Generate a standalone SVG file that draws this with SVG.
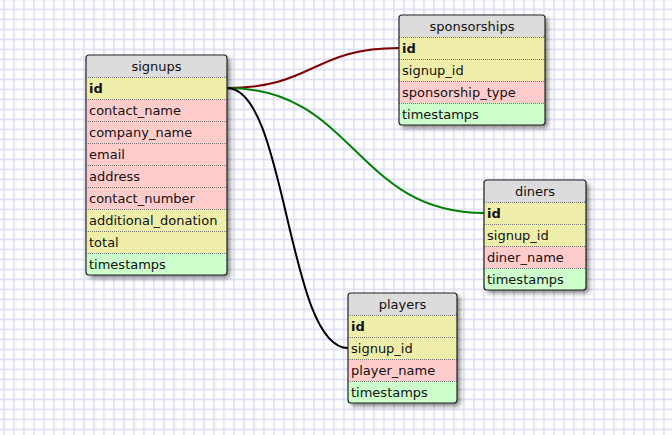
<svg xmlns="http://www.w3.org/2000/svg" width="672" height="435" viewBox="0 0 672 435">
<style>
  text { font-family: "DejaVu Sans", "Liberation Sans", sans-serif; font-size: 13px; fill: #111; }
  .title { text-anchor: middle; }
  .pk { font-weight: bold; }
  .hdr { fill: #dcdcdc; }
  .y { fill: #eeeeaa; }
  .p { fill: #ffcccc; }
  .g { fill: #ccffcc; }
  .sep { stroke: #777; stroke-width: 1; stroke-dasharray: 1 1; }
  .frame { fill: none; stroke: #222; stroke-width: 1.2; }
  .shadow { fill: #000; opacity: 0.5; filter: url(#blur); }
  .conn { fill: none; stroke-width: 2; }
</style>
<defs>
  <pattern id="grid" width="10" height="10" patternUnits="userSpaceOnUse" x="3.3" y="8.6">
    <path d="M0.7 0 V10 M0 0.7 H10" stroke="#dadaf6" stroke-width="1.4" fill="none"/>
  </pattern>
  <filter id="blur" x="-20%" y="-20%" width="140%" height="140%">
    <feGaussianBlur stdDeviation="2.5"/>
  </filter>
</defs>
<rect width="672" height="435" fill="#ffffff"/>
<rect width="672" height="435" fill="url(#grid)"/>

<g id="connectors">
  <path class="conn" stroke="#800000" d="M227 88 C313 88 313 48 399 48"/>
  <path class="conn" stroke="#008000" d="M227 88 C355 88 355 213 484 213"/>
  <path class="conn" stroke="#000000" d="M227 88 C287 88 287 348 348 348"/>
</g>

<g id="signups">
  <rect class="shadow" x="89" y="58" width="141" height="220" rx="3"/>
  <rect class="hdr" x="86" y="55" width="141" height="22" rx="3"/>
  <rect class="y" x="86" y="77" width="141" height="22"/>
  <rect class="p" x="86" y="99" width="141" height="110"/>
  <rect class="y" x="86" y="209" width="141" height="44"/>
  <rect class="g" x="86" y="253" width="141" height="22"/>
  <path class="sep" d="M86 77.5H227M86 99.5H227M86 121.5H227M86 143.5H227M86 165.5H227M86 187.5H227M86 209.5H227M86 231.5H227M86 253.5H227"/>
  <rect class="frame" x="86" y="55" width="141" height="220" rx="3"/>
  <text class="title" x="156.5" y="71">signups</text>
  <text class="pk" x="89" y="93">id</text>
  <text x="89" y="115">contact_name</text>
  <text x="89" y="137">company_name</text>
  <text x="89" y="159">email</text>
  <text x="89" y="181">address</text>
  <text x="89" y="203">contact_number</text>
  <text x="89" y="225">additional_donation</text>
  <text x="89" y="247">total</text>
  <text x="89" y="269">timestamps</text>
</g>

<g id="sponsorships">
  <rect class="shadow" x="402" y="18" width="146" height="110" rx="3"/>
  <rect class="hdr" x="399" y="15" width="146" height="22" rx="3"/>
  <rect class="y" x="399" y="37" width="146" height="44"/>
  <rect class="p" x="399" y="81" width="146" height="22"/>
  <rect class="g" x="399" y="103" width="146" height="22"/>
  <path class="sep" d="M399 37.5H545M399 59.5H545M399 81.5H545M399 103.5H545"/>
  <rect class="frame" x="399" y="15" width="146" height="110" rx="3"/>
  <text class="title" x="472" y="31">sponsorships</text>
  <text class="pk" x="402" y="53">id</text>
  <text x="402" y="75">signup_id</text>
  <text x="402" y="97">sponsorship_type</text>
  <text x="402" y="119">timestamps</text>
</g>

<g id="diners">
  <rect class="shadow" x="487" y="183" width="102" height="110" rx="3"/>
  <rect class="hdr" x="484" y="180" width="102" height="22" rx="3"/>
  <rect class="y" x="484" y="202" width="102" height="44"/>
  <rect class="p" x="484" y="246" width="102" height="22"/>
  <rect class="g" x="484" y="268" width="102" height="22"/>
  <path class="sep" d="M484 202.5H586M484 224.5H586M484 246.5H586M484 268.5H586"/>
  <rect class="frame" x="484" y="180" width="102" height="110" rx="3"/>
  <text class="title" x="535" y="196">diners</text>
  <text class="pk" x="487" y="218">id</text>
  <text x="487" y="240">signup_id</text>
  <text x="487" y="262">diner_name</text>
  <text x="487" y="284">timestamps</text>
</g>

<g id="players">
  <rect class="shadow" x="351" y="296" width="109" height="110" rx="3"/>
  <rect class="hdr" x="348" y="293" width="109" height="22" rx="3"/>
  <rect class="y" x="348" y="315" width="109" height="44"/>
  <rect class="p" x="348" y="359" width="109" height="22"/>
  <rect class="g" x="348" y="381" width="109" height="22"/>
  <path class="sep" d="M348 315.5H457M348 337.5H457M348 359.5H457M348 381.5H457"/>
  <rect class="frame" x="348" y="293" width="109" height="110" rx="3"/>
  <text class="title" x="402.5" y="309">players</text>
  <text class="pk" x="351" y="331">id</text>
  <text x="351" y="353">signup_id</text>
  <text x="351" y="375">player_name</text>
  <text x="351" y="397">timestamps</text>
</g>
</svg>
